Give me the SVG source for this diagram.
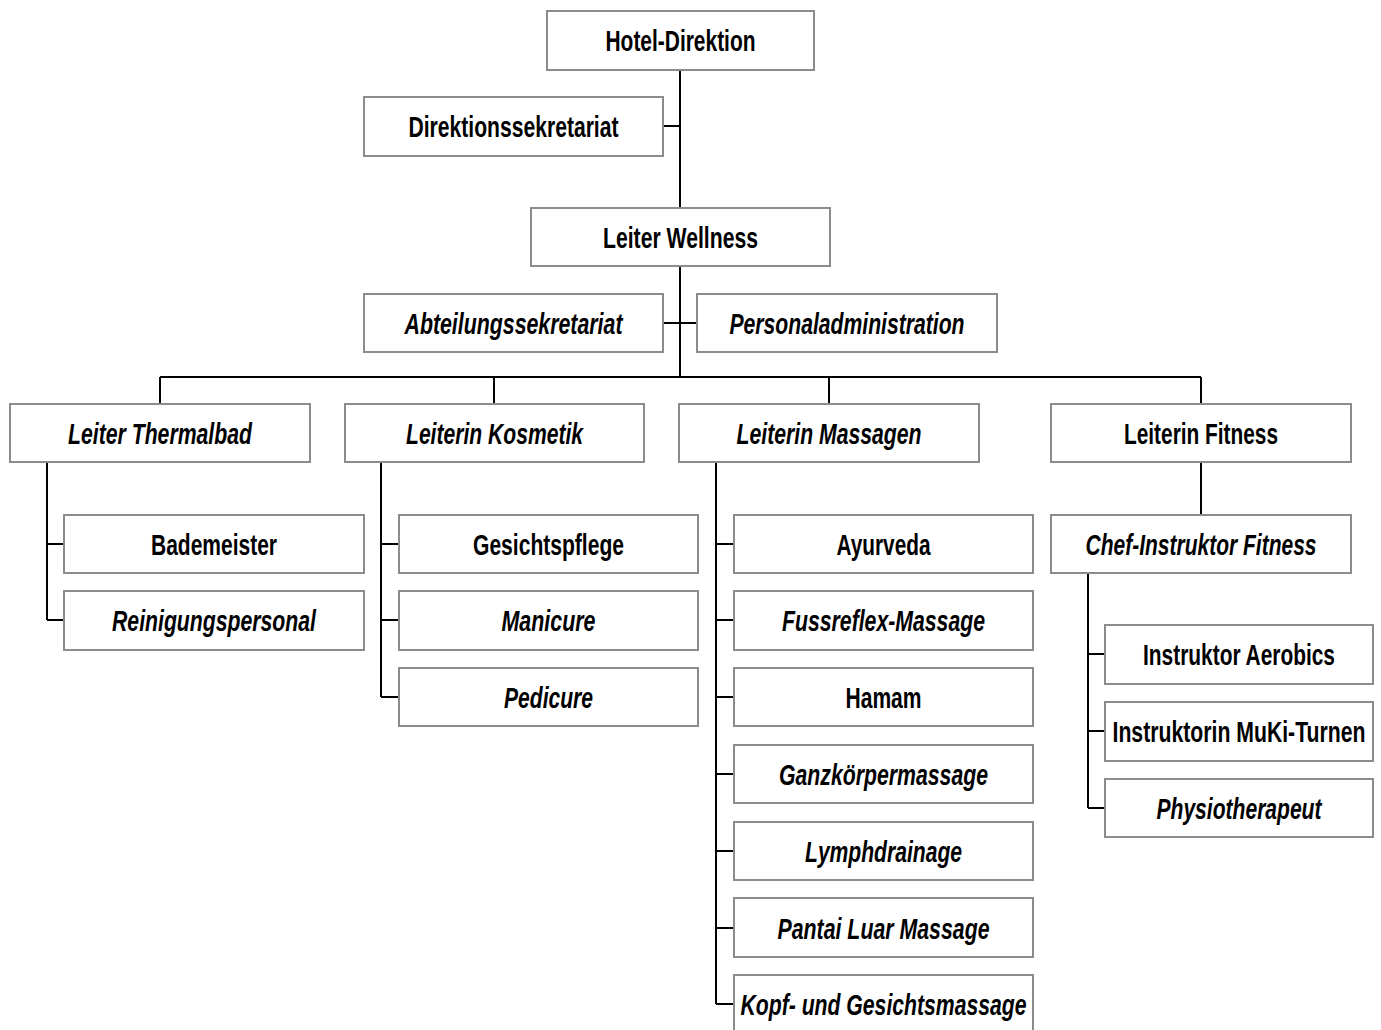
<svg xmlns="http://www.w3.org/2000/svg" width="1381" height="1030" viewBox="0 0 1381 1030">
<style>
.box{fill:#fff;stroke:#8c8c8c;stroke-width:2}
.t{font-family:"Liberation Sans",Arial,sans-serif;font-weight:bold;font-size:29px;text-anchor:middle;fill:#000}
.i{font-style:italic}
.c{stroke:#000;stroke-width:2;fill:none}
</style>
<rect width="1381" height="1030" fill="#fff"/>
<g id="connectors">
<path class="c" d="M680 70V208M663 126H680M680 266V377M663 323H697"/>
<path class="c" d="M160 377H1201M160 377V404M494 377V404M829 377V404M1201 377V404"/>
<path class="c" d="M47 462V620M47 544H64M47 620H64"/>
<path class="c" d="M381 462V697M381 544H399M381 620H399M381 697H399"/>
<path class="c" d="M716 462V1004M716 544H734M716 620H734M716 697H734M716 774H734M716 851H734M716 928H734M716 1004H734"/>
<path class="c" d="M1201 462V515M1088 573V808M1088 654H1105M1088 731H1105M1088 808H1105"/>
</g>
<g id="n-hotel"><rect class="box" x="547" y="11" width="267" height="59"/><text class="t" x="680.5" y="51" textLength="150" lengthAdjust="spacingAndGlyphs">Hotel-Direktion</text></g>
<g id="n-dsek"><rect class="box" x="364" y="97" width="299" height="59"/><text class="t" x="513.5" y="137" textLength="210" lengthAdjust="spacingAndGlyphs">Direktionssekretariat</text></g>
<g id="n-wellness"><rect class="box" x="531" y="208" width="299" height="58"/><text class="t" x="680.5" y="248" textLength="155" lengthAdjust="spacingAndGlyphs">Leiter Wellness</text></g>
<g id="n-asek"><rect class="box" x="364" y="294" width="299" height="58"/><text class="t i" x="513.5" y="334" textLength="218" lengthAdjust="spacingAndGlyphs">Abteilungssekretariat</text></g>
<g id="n-padmin"><rect class="box" x="697" y="294" width="300" height="58"/><text class="t i" x="847" y="334" textLength="235" lengthAdjust="spacingAndGlyphs">Personaladministration</text></g>
<g id="n-thermal"><rect class="box" x="10" y="404" width="300" height="58"/><text class="t i" x="160" y="444" textLength="184" lengthAdjust="spacingAndGlyphs">Leiter Thermalbad</text></g>
<g id="n-kosmetik"><rect class="box" x="345" y="404" width="299" height="58"/><text class="t i" x="494.5" y="444" textLength="177" lengthAdjust="spacingAndGlyphs">Leiterin Kosmetik</text></g>
<g id="n-massagen"><rect class="box" x="679" y="404" width="300" height="58"/><text class="t i" x="829" y="444" textLength="185" lengthAdjust="spacingAndGlyphs">Leiterin Massagen</text></g>
<g id="n-fitness"><rect class="box" x="1051" y="404" width="300" height="58"/><text class="t" x="1201" y="444" textLength="154" lengthAdjust="spacingAndGlyphs">Leiterin Fitness</text></g>
<g id="n-bademeister"><rect class="box" x="64" y="515" width="300" height="58"/><text class="t" x="214" y="555" textLength="126" lengthAdjust="spacingAndGlyphs">Bademeister</text></g>
<g id="n-reinigung"><rect class="box" x="64" y="591" width="300" height="59"/><text class="t i" x="214" y="631" textLength="204" lengthAdjust="spacingAndGlyphs">Reinigungspersonal</text></g>
<g id="n-gesicht"><rect class="box" x="399" y="515" width="299" height="58"/><text class="t" x="548.5" y="555" textLength="151" lengthAdjust="spacingAndGlyphs">Gesichtspflege</text></g>
<g id="n-manicure"><rect class="box" x="399" y="591" width="299" height="59"/><text class="t i" x="548.5" y="631" textLength="94" lengthAdjust="spacingAndGlyphs">Manicure</text></g>
<g id="n-pedicure"><rect class="box" x="399" y="668" width="299" height="58"/><text class="t i" x="548.5" y="708" textLength="89" lengthAdjust="spacingAndGlyphs">Pedicure</text></g>
<g id="n-ayurveda"><rect class="box" x="734" y="515" width="299" height="58"/><text class="t" x="883.5" y="555" textLength="94" lengthAdjust="spacingAndGlyphs">Ayurveda</text></g>
<g id="n-fussreflex"><rect class="box" x="734" y="591" width="299" height="59"/><text class="t i" x="883.5" y="631" textLength="203" lengthAdjust="spacingAndGlyphs">Fussreflex-Massage</text></g>
<g id="n-hamam"><rect class="box" x="734" y="668" width="299" height="58"/><text class="t" x="883.5" y="708" textLength="76" lengthAdjust="spacingAndGlyphs">Hamam</text></g>
<g id="n-ganzkoerper"><rect class="box" x="734" y="745" width="299" height="58"/><text class="t i" x="883.5" y="785" textLength="209" lengthAdjust="spacingAndGlyphs">Ganzkörpermassage</text></g>
<g id="n-lymph"><rect class="box" x="734" y="822" width="299" height="58"/><text class="t i" x="883.5" y="862" textLength="157" lengthAdjust="spacingAndGlyphs">Lymphdrainage</text></g>
<g id="n-pantai"><rect class="box" x="734" y="898" width="299" height="59"/><text class="t i" x="883.5" y="939" textLength="212" lengthAdjust="spacingAndGlyphs">Pantai Luar Massage</text></g>
<g id="n-kopf"><rect class="box" x="734" y="975" width="299" height="59"/><text class="t i" x="883.5" y="1015" textLength="286" lengthAdjust="spacingAndGlyphs">Kopf- und Gesichtsmassage</text></g>
<g id="n-chef"><rect class="box" x="1051" y="515" width="300" height="58"/><text class="t i" x="1201" y="555" textLength="231" lengthAdjust="spacingAndGlyphs">Chef-Instruktor Fitness</text></g>
<g id="n-aerobics"><rect class="box" x="1105" y="625" width="268" height="59"/><text class="t" x="1239" y="665" textLength="192" lengthAdjust="spacingAndGlyphs">Instruktor Aerobics</text></g>
<g id="n-muki"><rect class="box" x="1105" y="702" width="268" height="59"/><text class="t" x="1239" y="742" textLength="253" lengthAdjust="spacingAndGlyphs">Instruktorin MuKi-Turnen</text></g>
<g id="n-physio"><rect class="box" x="1105" y="779" width="268" height="58"/><text class="t i" x="1239" y="819" textLength="165" lengthAdjust="spacingAndGlyphs">Physiotherapeut</text></g>
</svg>
